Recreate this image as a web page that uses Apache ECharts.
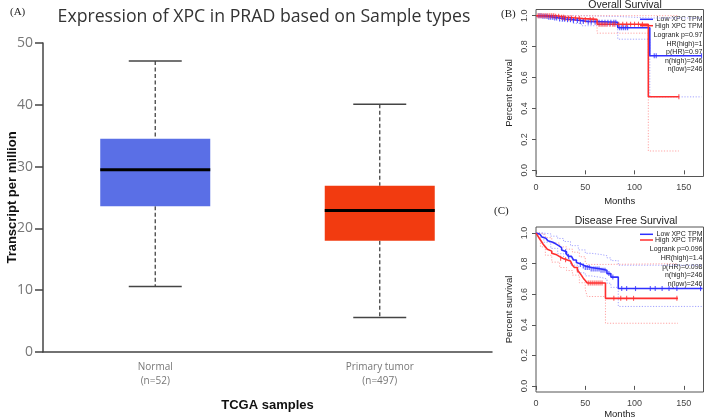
<!DOCTYPE html>
<html><head><meta charset="utf-8">
<script src="https://cdn.jsdelivr.net/npm/echarts@6/dist/echarts.min.js"></script>
<style>html,body{margin:0;padding:0;background:#fff}#c{width:709px;height:418px}</style>
</head><body><div id="c"></div>
<script>
// ---------- Panel A: box plot ----------
const boxCategories = ['Normal\n(n=52)', 'Primary tumor\n(n=497)'];
const boxMin = [10.6, 5.6];
const boxQ1 = [23.6, 18.0];
const boxMedian = [29.5, 22.9];
const boxQ3 = [34.5, 26.9];
const boxMax = [47.1, 40.1];
const boxColors = ['#5a6fe6', '#f23b10'];
const boxYTicks = [0, 10, 20, 30, 40, 50];

// ---------- Panels B/C: Kaplan-Meier ----------
const kmXTicks = [0, 50, 100, 150];
const kmYTicks = [0, 0.2, 0.4, 0.6, 0.8, 1.0];

// Overall survival
const osLow = [[0,1],[6,0.996],[12,0.99],[18,0.985],[24,0.979],[30,0.974],[38,0.969],[45,0.963],[52,0.958],[83,0.922],[115.5,0.741],[168,0.741]];
const osHigh = [[0,1],[20,0.996],[24,0.99],[30,0.985],[40,0.981],[48,0.976],[62,0.945],[114,0.476],[145,0.476]];
const osLowUpper = [[0,1],[45,0.995],[83,0.985],[115.5,0.985],[168,0.985]];
const osLowLower = [[0,1],[12,0.98],[24,0.965],[38,0.95],[46,0.935],[83,0.848],[115.5,0.475],[168,0.475]];
const osHighUpper = [[0,1],[62,1],[114,1],[145,1]];
const osHighLower = [[0,1],[20,0.985],[30,0.972],[48,0.955],[62,0.887],[114,0.125],[145,0.125]];
const osLowCensor = [3,5,7,9,11,13,15,17,19,21,24,27,29,32,35,38,42,45,48,53,56,60,64,67,70,73,76,79,81,85,87,89,91,93,120,122,168];
const osHighCensor = [2,4,6,8,10,12,14,16,18,20,23,26,28,30,33,36,40,44,50,55,58,64,66,68,70,72,75,78,80,84,88,92,96,100,104,108,145];
const osStats = ['Logrank p=0.97', 'HR(high)=1', 'p(HR)=0.97', 'n(high)=246', 'n(low)=246'];

// Disease free survival
const dfsLow = [[0,1],[2,0.992],[4,0.984],[6,0.975],[8,0.967],[10,0.958],[12,0.95],[14,0.94],[17,0.93],[20,0.918],[23,0.905],[26,0.89],[28,0.878],[31,0.862],[33,0.848],[36,0.836],[38,0.824],[41,0.808],[43,0.795],[47,0.784],[50,0.775],[56,0.765],[66,0.757],[72,0.735],[76,0.712],[83.5,0.637],[169,0.637]];
const dfsHigh = [[0,1],[1.5,0.985],[3,0.97],[4.5,0.955],[6,0.94],[7.5,0.925],[9.5,0.91],[11.5,0.895],[13.5,0.882],[16,0.868],[18,0.858],[21,0.846],[24,0.835],[27,0.826],[31,0.817],[35,0.807],[37,0.79],[39,0.775],[42,0.758],[44,0.742],[46,0.725],[48,0.705],[50,0.69],[52,0.673],[70.5,0.573],[144,0.573]];
const dfsLowUpper = [[0,1],[8,0.995],[15,0.98],[22,0.965],[28,0.945],[35,0.918],[43,0.89],[50,0.868],[56,0.86],[66,0.852],[72,0.838],[76,0.82],[83.5,0.79],[169,0.79]];
const dfsLowLower = [[0,1],[8,0.94],[15,0.9],[22,0.865],[28,0.83],[35,0.79],[43,0.74],[50,0.72],[56,0.71],[66,0.7],[72,0.672],[76,0.645],[83.5,0.52],[169,0.52]];
const dfsHighUpper = [[0,1],[4.5,0.99],[9.5,0.97],[16,0.935],[24,0.91],[31,0.895],[37,0.875],[44,0.845],[50,0.81],[52,0.795],[70.5,0.8],[144,0.8]];
const dfsHighLower = [[0,1],[4.5,0.91],[9.5,0.855],[16,0.81],[24,0.775],[31,0.755],[37,0.725],[44,0.675],[50,0.63],[52,0.585],[70.5,0.41],[144,0.41]];
const dfsLowCensor = [30,33,45,48,50,52,54,56,58,60,62,64,66,68,70,74,78,87,92,101,116,121,128,135,143,167];
const dfsHighCensor = [25,30,42,53,55,57,59,61,63,65,67,79,86,92,99,143];
const dfsStats = ['Logrank p=0.096', 'HR(high)=1.4', 'p(HR)=0.098', 'n(high)=246', 'n(low)=246'];

const LOW_C = '#2f2fff', HIGH_C = '#ff2f2f', LOW_CI = '#9a9aff', HIGH_CI = '#ff9a9a';
const KMFONT = 'Liberation Sans, Arial, sans-serif';

function survAt(curve, t) {
  let v = curve[0][1];
  for (const p of curve) { if (p[0] <= t) v = p[1]; else break; }
  return v;
}

const chart = echarts.init(document.getElementById('c'), null, {renderer: 'canvas'});

function renderBox(params, api) {
  const i = api.value(0);
  const band = api.size([1, 0])[0];
  const bw = band * 0.49, cw = band * 0.236;
  const pLo = api.coord([i, api.value(1)]);
  const pQ1 = api.coord([i, api.value(2)]);
  const pMed = api.coord([i, api.value(3)]);
  const pQ3 = api.coord([i, api.value(4)]);
  const pHi = api.coord([i, api.value(5)]);
  const x = pMed[0];
  const wStyle = {stroke: '#444', lineWidth: 1.3, lineDash: [4, 2.5]};
  const cStyle = {stroke: '#444', lineWidth: 1.5};
  return {type: 'group', children: [
    {type: 'line', shape: {x1: x, y1: pHi[1], x2: x, y2: pQ3[1]}, style: wStyle},
    {type: 'line', shape: {x1: x, y1: pQ1[1], x2: x, y2: pLo[1]}, style: wStyle},
    {type: 'line', shape: {x1: x - cw / 2, y1: pHi[1], x2: x + cw / 2, y2: pHi[1]}, style: cStyle},
    {type: 'line', shape: {x1: x - cw / 2, y1: pLo[1], x2: x + cw / 2, y2: pLo[1]}, style: cStyle},
    {type: 'rect', shape: {x: x - bw / 2, y: pQ3[1], width: bw, height: pQ1[1] - pQ3[1]}, style: {fill: boxColors[i]}},
    {type: 'line', shape: {x1: x - bw / 2, y1: pMed[1], x2: x + bw / 2, y2: pMed[1]}, style: {stroke: '#000', lineWidth: 3}}
  ]};
}

function kmAxes(gi, xNameGap) {
  return {
    x: {
      type: 'value', gridIndex: gi, min: 0, max: 170,
      axisLine: {show: false}, splitLine: {show: false},
      axisTick: {show: true, length: 4, customValues: kmXTicks, lineStyle: {color: '#555'}},
      axisLabel: {customValues: kmXTicks, fontSize: 9, color: '#444', margin: 7, fontFamily: KMFONT},
      name: 'Months', nameLocation: 'middle', nameGap: xNameGap, nameMoveOverlap: false,
      nameTextStyle: {fontSize: 9.5, color: '#222', fontFamily: KMFONT}
    },
    y: {
      type: 'value', gridIndex: gi, min: -0.04, max: 1.04,
      axisLine: {show: false}, splitLine: {show: false},
      axisTick: {show: true, length: 4, customValues: kmYTicks, lineStyle: {color: '#555'}},
      axisLabel: {customValues: kmYTicks, rotate: 90, fontSize: 9, color: '#444', margin: 7, fontFamily: KMFONT,
        formatter: v => v.toFixed(1)},
      name: 'Percent survival', nameLocation: 'middle', nameGap: 22, nameMoveOverlap: false,
      nameTextStyle: {fontSize: 9.5, color: '#222', fontFamily: KMFONT}
    }
  };
}
const axB = kmAxes(1, 20), axC = kmAxes(2, 17);

function stepLine(data, gi, color, width, dotted) {
  return {
    type: 'line', xAxisIndex: gi, yAxisIndex: gi, step: 'end', data: data,
    showSymbol: false, silent: true, z: dotted ? 2 : 3,
    lineStyle: {color: color, width: width, type: dotted ? [1.2, 1.6] : 'solid'}
  };
}
function censor(times, curve, gi, color) {
  return {
    type: 'scatter', xAxisIndex: gi, yAxisIndex: gi, silent: true, z: 4,
    symbol: 'rect', symbolSize: [1.1, 5],
    itemStyle: {color: color},
    data: times.map(t => [t, survAt(curve, t)])
  };
}

function legendGraphics(rowsY, stats, rightX) {
  const g = [];
  const names = ['Low XPC TPM', 'High XPC TPM'];
  const cols = [LOW_C, HIGH_C];
  for (let k = 0; k < 2; k++) {
    g.push({type: 'line', shape: {x1: 640, y1: rowsY[k], x2: 653, y2: rowsY[k]}, style: {stroke: cols[k], lineWidth: 1.5}});
    g.push({type: 'text', x: rightX, y: rowsY[k], style: {text: names[k], align: 'right', verticalAlign: 'middle', font: '7px ' + KMFONT, fill: '#222'}});
  }
  stats.forEach((s, k) => {
    g.push({type: 'text', x: rightX, y: rowsY[k + 2], style: {text: s, align: 'right', verticalAlign: 'middle', font: '7px ' + KMFONT, fill: '#222'}});
  });
  return g;
}

const option = {
  animation: false,
  backgroundColor: '#fff',
  title: [
    {text: 'Expression of XPC in PRAD based on Sample types', left: 259, top: 3, textAlign: 'center',
      textStyle: {fontSize: 17.7, fontWeight: 'normal', color: '#333', fontFamily: 'Open Sans'}},
    {text: 'Overall Survival', left: 620, top: -5, textAlign: 'center',
      textStyle: {fontSize: 10.5, fontWeight: 'normal', color: '#222', fontFamily: KMFONT}},
    {text: 'Disease Free Survival', left: 621, top: 211, textAlign: 'center',
      textStyle: {fontSize: 10.5, fontWeight: 'normal', color: '#222', fontFamily: KMFONT}}
  ],
  grid: [
    {left: 43, top: 43, width: 449, height: 309, outerBoundsMode: 'none', containLabel: false},
    {left: 536, top: 9.5, width: 167.5, height: 167, show: true, borderColor: '#555', borderWidth: 1, backgroundColor: 'transparent', outerBoundsMode: 'none', containLabel: false},
    {left: 536, top: 227, width: 167.5, height: 165, show: true, borderColor: '#555', borderWidth: 1, backgroundColor: 'transparent', outerBoundsMode: 'none', containLabel: false}
  ],
  xAxis: [
    {type: 'category', gridIndex: 0, data: boxCategories,
      axisLine: {lineStyle: {color: '#444', width: 1.5}}, axisTick: {show: false},
      axisLabel: {fontSize: 10, lineHeight: 14, color: '#777', margin: 8, fontFamily: 'Open Sans'},
      name: 'TCGA samples', nameLocation: 'middle', nameGap: 47, nameMoveOverlap: false,
      nameTextStyle: {fontSize: 13, fontWeight: 'bold', color: '#111', fontFamily: 'Liberation Sans'}},
    axB.x, axC.x
  ],
  yAxis: [
    {type: 'value', gridIndex: 0, min: 0, max: 50, interval: 10,
      axisLine: {show: true, lineStyle: {color: '#444', width: 1.5}},
      axisTick: {show: true, length: 8, lineStyle: {color: '#444', width: 1.5}},
      splitLine: {show: false},
      axisLabel: {fontSize: 14, color: '#777', margin: 10, fontFamily: 'Open Sans',
        customValues: boxYTicks},
      name: 'Transcript per million', nameLocation: 'middle', nameGap: 24, nameMoveOverlap: false,
      nameTextStyle: {fontSize: 13, fontWeight: 'bold', color: '#111', fontFamily: 'Liberation Sans'}},
    axB.y, axC.y
  ],
  series: [
    {type: 'custom', xAxisIndex: 0, yAxisIndex: 0, renderItem: renderBox, silent: true,
      encode: {x: 0, y: [1, 2, 3, 4, 5]},
      data: boxCategories.map((c, i) => [i, boxMin[i], boxQ1[i], boxMedian[i], boxQ3[i], boxMax[i]])},
    stepLine(osLowUpper, 1, LOW_CI, 0.9, true),
    stepLine(osLowLower, 1, LOW_CI, 0.9, true),
    stepLine(osHighUpper, 1, HIGH_CI, 0.9, true),
    stepLine(osHighLower, 1, HIGH_CI, 0.9, true),
    stepLine(osLow, 1, LOW_C, 1.6, false),
    stepLine(osHigh, 1, HIGH_C, 1.6, false),
    censor(osLowCensor, osLow, 1, LOW_C),
    censor(osHighCensor, osHigh, 1, HIGH_C),
    stepLine(dfsLowUpper, 2, LOW_CI, 0.9, true),
    stepLine(dfsLowLower, 2, LOW_CI, 0.9, true),
    stepLine(dfsHighUpper, 2, HIGH_CI, 0.9, true),
    stepLine(dfsHighLower, 2, HIGH_CI, 0.9, true),
    stepLine(dfsLow, 2, LOW_C, 1.6, false),
    stepLine(dfsHigh, 2, HIGH_C, 1.6, false),
    censor(dfsLowCensor, dfsLow, 2, LOW_C),
    censor(dfsHighCensor, dfsHigh, 2, HIGH_C)
  ],
  graphic: [
    {type: 'text', x: 10, y: 12, style: {text: '(A)', font: '11px Liberation Serif', fill: '#222', verticalAlign: 'middle'}},
    {type: 'text', x: 501, y: 14, style: {text: '(B)', font: '11px Liberation Serif', fill: '#222', verticalAlign: 'middle'}},
    {type: 'text', x: 494, y: 211, style: {text: '(C)', font: '11px Liberation Serif', fill: '#222', verticalAlign: 'middle'}},
    ...legendGraphics([19.3, 25.7, 35, 43.7, 52, 60.7, 69.3], osStats, 702.5),
    ...legendGraphics([234.3, 240, 249.3, 257.7, 266.7, 275.3, 284], dfsStats, 702.5)
  ]
};
chart.setOption(option);
</script></body></html>
